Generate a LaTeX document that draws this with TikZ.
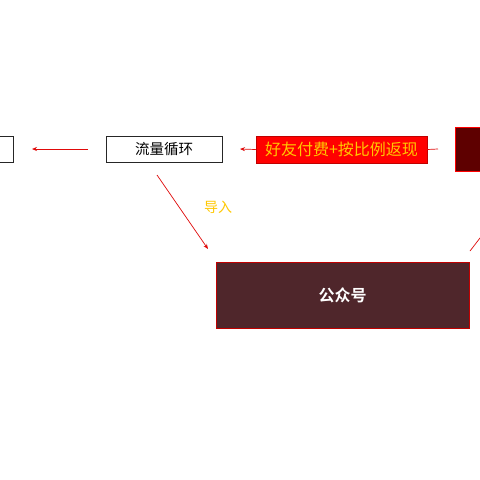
\documentclass[tikz,border=0pt]{standalone}
\usepackage{fontspec}
\newfontfamily\cjk{Noto Sans CJK SC}
\newfontfamily\cjkb{Noto Sans CJK SC Bold}
\usetikzlibrary{arrows.meta}
\definecolor{lred}{HTML}{E00A0A}
\definecolor{gold}{HTML}{FFC800}
\definecolor{maroon}{HTML}{5E0000}
\definecolor{wine}{HTML}{4F262B}
\definecolor{bred}{HTML}{C00000}
\tikzset{
  outbox/.style={draw=black!85, line width=0.8pt, fill=white, inner sep=0pt},
  redline/.style={draw=lred, line width=0.7pt},
  redarrow/.style={redline, -{Stealth[length=5pt,width=4pt]}},
}
\begin{document}
\begin{tikzpicture}[x=1pt,y=-1pt]
\useasboundingbox[fill=white] (0,0) rectangle (480,480);
% boxes
\node[outbox, minimum width=40pt, minimum height=26pt] (left) at (-7,149) {};
\node[outbox, minimum width=116pt, minimum height=26pt, font=\cjk\fontsize{14.5}{16}\selectfont] (flow) at (164,149) {流量循环};
\node[fill=red, draw=bred, line width=0.5pt, minimum width=171pt, minimum height=27pt, inner sep=0pt, text=gold, font=\cjk\fontsize{16}{18}\selectfont] (pay) at (341.5,149.5) {好友付费+按比例返现};
\node[fill=maroon, draw=red, line width=0.6pt, minimum width=50pt, minimum height=44pt, inner sep=0pt, anchor=north west] (dark) at (455,127) {};
\node[fill=wine, draw=bred, line width=0.6pt, minimum width=253pt, minimum height=66pt, inner sep=0pt, text=white, font=\cjkb\fontsize{16}{18}\selectfont] (gzh) at (342.5,295) {公众号};
\node[font=\cjk\fontsize{14}{16}\selectfont, text=gold] (daoru) at (218,207) {导入};
% connectors
\coordinate (s1) at (438,149);
\coordinate (e1) at (240,149);
\draw[redline] (s1) -- (pay.east);
\draw[redarrow] (pay.west) -- (e1);
\coordinate (s2) at (88,149);
\coordinate (e2) at (32,149);
\draw[redarrow] (s2) -- (e2);
\coordinate (s3) at (157,175);
\coordinate (e3) at (208,249);
\draw[redarrow] (s3) -- (e3);
\coordinate (s4) at (470,251);
\coordinate (e4) at (500,212);
\draw[redarrow] (s4) -- (e4);
\end{tikzpicture}
\end{document}
